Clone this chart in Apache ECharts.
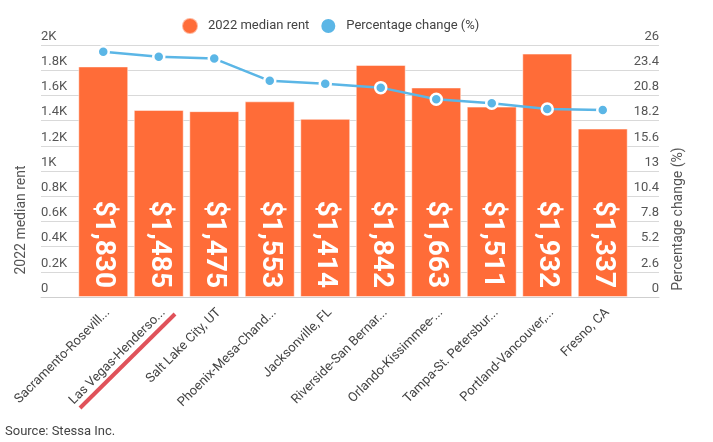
<!DOCTYPE html>
<html>
<head>
<meta charset="utf-8">
<script src="https://cdn.jsdelivr.net/npm/echarts@6/dist/echarts.min.js"></script>
<style>html,body{margin:0;padding:0;background:#fff}#c{width:713px;height:442px}</style>
</head>
<body>
<div id="c"></div>
<script>
const categories = ['Sacramento-Roseville-Folsom, CA', 'Las Vegas-Henderson-Paradise, NV', 'Salt Lake City, UT', 'Phoenix-Mesa-Chandler, AZ', 'Jacksonville, FL', 'Riverside-San Bernardino-Ontario, CA', 'Orlando-Kissimmee-Sanford, FL', 'Tampa-St. Petersburg-Clearwater, FL', 'Portland-Vancouver, OR-WA', 'Fresno, CA'];
const medianRent = [1830, 1485, 1475, 1553, 1414, 1842, 1663, 1511, 1932, 1337];
const pctChange = [25.3, 24.8, 24.6, 22.3, 22.0, 21.6, 20.4, 20.0, 19.4, 19.3];
const rentTicks = { min: 0, max: 2000, interval: 200 };
const pctTicks = { min: 0, max: 26, interval: 2.6 };

const FONT = 'Roboto';
const ORANGE = '#ff6c38';
const BLUE = '#5bb6e6';

function shortLabel(name) {
  let t = echarts.format.truncateText(name, 136, '13px ' + FONT, '...');
  return t.replace(/\s+\.\.\.$/, '...');
}

const chart = echarts.init(document.getElementById('c'));
chart.setOption({
  animation: false,
  textStyle: { fontFamily: FONT },
  legend: {
    left: 176, top: 12, itemWidth: 16, itemHeight: 16, itemGap: 10, icon: 'circle',
    textStyle: { fontSize: 13, color: '#444', fontFamily: FONT, padding: [0, 0, 0, 5] },
    data: ['2022 median rent', 'Percentage change (%)']
  },
  grid: [
    { left: 41, right: 54, top: 45, bottom: 145 },
    { left: 75.5, right: 82.5, top: 45, bottom: 145 }
  ],
  xAxis: [
    { gridIndex: 0, type: 'value', min: 0, max: 1, axisLabel: { show: false }, axisTick: { show: false }, splitLine: { show: false }, axisLine: { show: true, lineStyle: { color: '#cfcfcf', width: 1 } } },
    { gridIndex: 1, type: 'category', data: categories, axisLine: { show: false }, axisTick: { show: false },
      axisLabel: { rotate: 45, margin: 9, verticalAlign: 'top', fontSize: 13, color: '#444', fontFamily: FONT, interval: 0,
        formatter: v => shortLabel(v) } }
  ],
  yAxis: [
    { gridIndex: 0, type: 'value', min: rentTicks.min, max: rentTicks.max, interval: rentTicks.interval, position: 'left',
      axisLine: { show: false }, axisTick: { show: false },
      splitLine: { lineStyle: { color: '#d9d9d9', width: 1 } },
      axisLabel: { inside: true, margin: 0, verticalAlign: 'bottom', padding: [0, 0, 2, 0], fontSize: 13, color: '#555', fontFamily: FONT,
        formatter: v => v === 0 ? '0' : (+(v / 1000).toFixed(1)) + 'K' } },
    { gridIndex: 0, type: 'value', min: pctTicks.min, max: pctTicks.max, interval: pctTicks.interval, position: 'right',
      axisLine: { show: false }, axisTick: { show: false }, splitLine: { show: false },
      axisLabel: { inside: true, margin: 0, verticalAlign: 'bottom', padding: [0, 0, 2, 0], fontSize: 13, color: '#555', fontFamily: FONT,
        formatter: v => String(+v.toFixed(1)) } },
    { gridIndex: 1, type: 'value', min: rentTicks.min, max: rentTicks.max, show: false, splitLine: { show: false } },
    { gridIndex: 1, type: 'value', min: pctTicks.min, max: pctTicks.max, show: false, splitLine: { show: false } }
  ],
  series: [
    { name: '2022 median rent', type: 'bar', xAxisIndex: 1, yAxisIndex: 2, data: medianRent, barCategoryGap: '10%',
      itemStyle: { color: ORANGE, borderColor: 'rgba(255,255,255,0.5)', borderWidth: 1 },
      label: { show: true, position: 'insideBottom', rotate: -90, align: 'right', verticalAlign: 'middle', distance: 9,
        color: '#fff', fontSize: 28, fontWeight: 'bold', fontFamily: FONT,
        formatter: p => '$' + p.value.toLocaleString('en-US') } },
    { name: 'Percentage change (%)', type: 'line', xAxisIndex: 1, yAxisIndex: 3, data: pctChange,
      symbol: 'circle', symbolSize: 11, z: 5,
      lineStyle: { color: BLUE, width: 2.5 },
      itemStyle: { color: BLUE, borderColor: '#fff', borderWidth: 2.5 } }
  ],
  graphic: [
    { type: 'text', x: 21, y: 220, rotation: Math.PI / 2, style: { text: '2022 median rent', fontSize: 14, fill: '#555', fontFamily: FONT, align: 'center', verticalAlign: 'middle' } },
    { type: 'text', x: 678, y: 219, rotation: Math.PI / 2, style: { text: 'Percentage change (%)', fontSize: 14, fill: '#555', fontFamily: FONT, align: 'center', verticalAlign: 'middle' } },
    { type: 'text', left: 5, top: 425, style: { text: 'Source: Stessa Inc.', fontSize: 13, fill: '#444', fontFamily: FONT } },
    { type: 'line', shape: { x1: 80, y1: 408, x2: 175, y2: 314 }, style: { stroke: '#e0525a', lineWidth: 4 }, z: 10 }
  ]
});
</script>
</body>
</html>
